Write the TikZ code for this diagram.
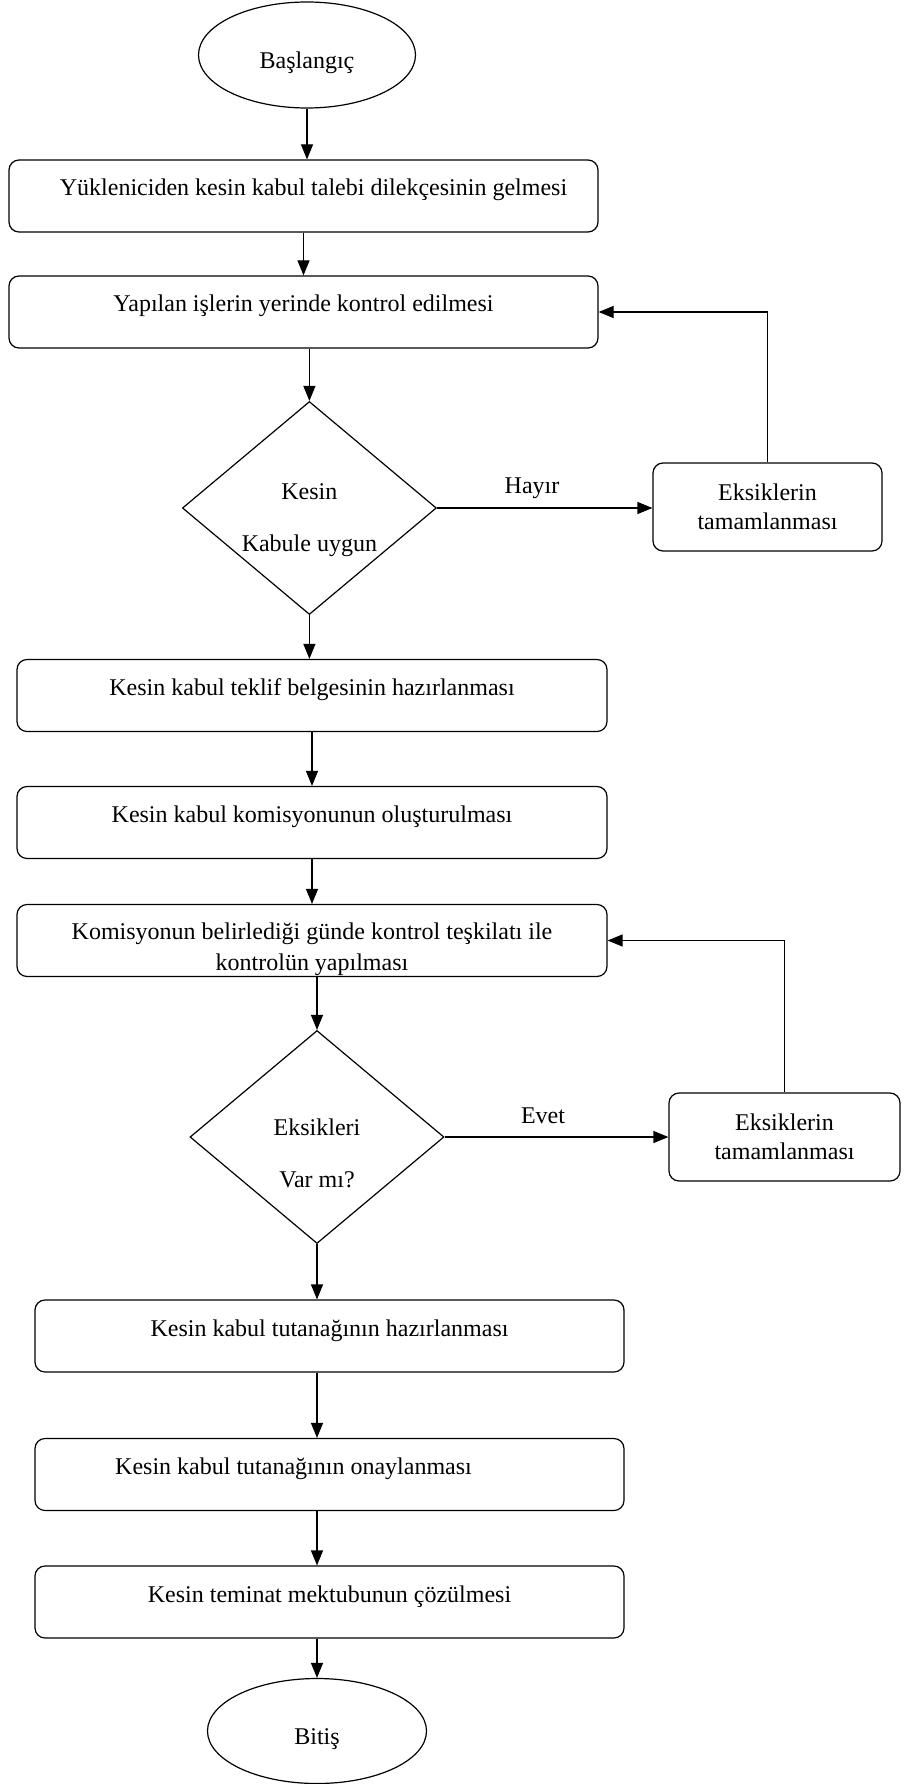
\documentclass[tikz,border=0pt]{standalone}
\usepackage{fontspec}
\setmainfont{Liberation Serif}
\usetikzlibrary{shapes.geometric,arrows.meta}
\begin{document}
\begin{tikzpicture}[x=1pt,y=-1pt,
  font=\fontsize{24}{31}\selectfont,
  line width=1.2pt,
  pbox/.style={draw, rounded corners=10pt, minimum width=589pt, minimum height=72pt,
    text height=9pt, text depth=9pt, inner sep=0pt},
  sbox/.style={draw, rounded corners=10pt, minimum width=229pt, minimum height=88pt,
    align=center, inner sep=0pt, font=\fontsize{24}{29}\selectfont},
  term/.style={draw, ellipse, minimum width=217pt, minimum height=106pt, inner sep=0pt,
    text height=30pt, text depth=3pt},
  dec/.style={draw, diamond, minimum width=254pt, minimum height=213pt, inner sep=0pt},
  dectext/.style={align=center, inner sep=0pt, font=\fontsize{24}{52}\selectfont},
  arr/.style={-{Triangle[length=15pt,width=12pt]}},
  lbl/.style={inner sep=0pt}
]
\useasboundingbox (0,0) rectangle (908,1784);

\node[term] (start) at (307,55) {Başlangıç};
\node[pbox] (b1) at (303.5,196) {\hspace*{20pt}Yükleniciden kesin kabul talebi dilekçesinin gelmesi};
\node[pbox] (b2) at (303.5,312) {Yapılan işlerin yerinde kontrol edilmesi};
\node[dec, label={[dectext, yshift=-12pt]center:Kesin\\Kabule uygun}] (d1) at (309.4,508) {};
\node[sbox] (s1) at (767.5,507) {Eksiklerin\\tamamlanması};
\node[pbox, minimum width=590pt] (b4) at (312,695.5) {Kesin kabul teklif belgesinin hazırlanması};
\node[pbox, minimum width=590pt] (b5) at (312,822.5) {Kesin kabul komisyonunun oluşturulması};
\node[draw, rounded corners=10pt, minimum width=590pt, minimum height=72pt, inner sep=0pt,
  label={[align=center, inner sep=0pt, yshift=-9pt]center:Komisyonun belirlediği günde kontrol teşkilatı ile\\kontrolün yapılması}]
  (b6) at (312,940.5) {};
\node[dec, label={[dectext, yshift=-16pt]center:Eksikleri\\Var mı?}] (d2) at (317,1137) {};
\node[sbox, minimum width=231pt] (s2) at (784.5,1137) {Eksiklerin\\tamamlanması};
\node[pbox] (b7) at (329.5,1336) {Kesin kabul tutanağının hazırlanması};
\node[pbox] (b8) at (329.5,1474.5) {Kesin kabul tutanağının onaylanması\hspace*{72pt}};
\node[pbox] (b9) at (329.5,1602) {Kesin teminat mektubunun çözülmesi};
\node[term, minimum width=219pt, minimum height=105pt] (end) at (317,1731) {Bitiş};

\draw[arr] (start.south) -- (start.south |- b1.north);
\draw[arr] (b1.south) -- (b2.north);
\draw[arr] (b2.south -| d1.north) -- (d1.north);
\draw[arr] (d1.east) -- (d1.east -| s1.west);
\draw[arr] (s1.north) -- (s1.north |- b2.east) -- (b2.east);
\node[lbl] (hayir) at (532,488) {Hayır};
\draw[arr] (d1.south) -- (d1.south |- b4.north);
\draw[arr] (b4.south) -- (b5.north);
\draw[arr] (b5.south) -- (b6.north);
\draw[arr] (b6.south -| d2.north) -- (d2.north);
\draw[arr] (d2.east) -- (d2.east -| s2.west);
\draw[arr] (s2.north) -- (s2.north |- b6.east) -- (b6.east);
\node[lbl] (evet) at (543,1116) {Evet};
\draw[arr] (d2.south) -- (d2.south |- b7.north);
\draw[arr] (b7.south -| d2.south) -- (b8.north -| d2.south);
\draw[arr] (b8.south -| d2.south) -- (b9.north -| d2.south);
\draw[arr] (b9.south -| end.north) -- (end.north);
\end{tikzpicture}
\end{document}
